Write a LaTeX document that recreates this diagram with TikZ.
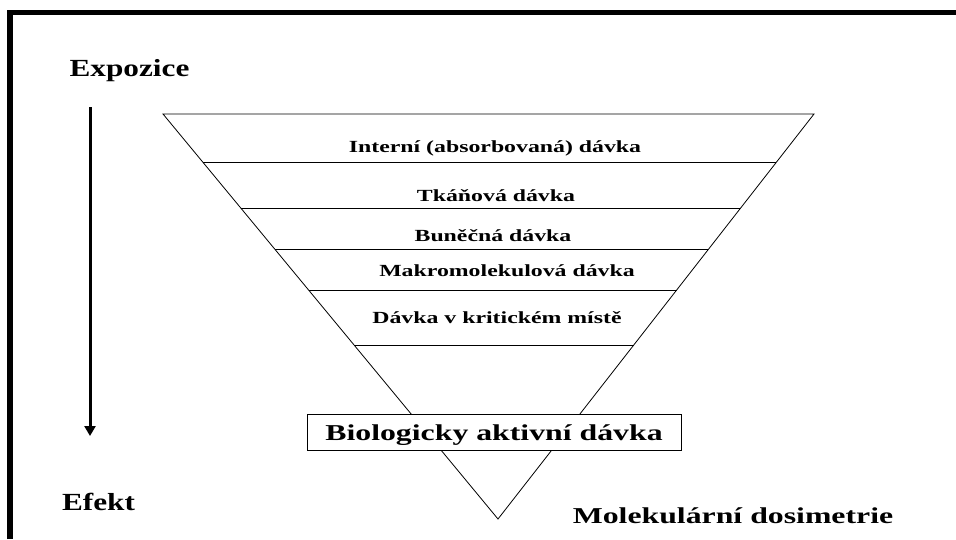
\documentclass[tikz,border=0pt]{standalone}
\usepackage{fontspec}
\newfontfamily\dosefont{Liberation Serif}[FakeStretch=1.4]
\newfontfamily\axisfont{Liberation Serif}[FakeStretch=1.27]
\usetikzlibrary{arrows.meta,calc}

\begin{document}
\begin{tikzpicture}[x=1pt,y=-1pt,
frame/.style={
  line width=5.5pt,
  line join=miter},
funnel/.style={
  line width=0.8pt,
  line join=miter},
doseaxis/.style={
  line width=3pt,
  -{Triangle[length=10pt,width=11pt]}},
level/.style={
  font={\dosefont\bfseries\fontsize{17pt}{20pt}\selectfont},
  anchor=base,
  inner sep=0pt},
axislabel/.style={
  level,
  font={\dosefont\bfseries\fontsize{22.7pt}{26pt}\selectfont}},
endlabel/.style={
  level,
  font={\axisfont\bfseries\fontsize{24.6pt}{28pt}\selectfont}},
activebox/.style={
  axislabel,
  anchor=center,
  draw,
  fill=white,
  line width=0.8pt,
  minimum width=374pt,
  minimum height=36pt,
  text height=16pt,
  text depth=0pt},
]
\useasboundingbox (0,0) rectangle (956,539);

% frame
\draw[frame] (10,539) -- (10,12.5) -- (956,12.5);

% exposure -> effect
\coordinate (arrowtop) at (90,107);
\coordinate (arrowtip) at (90,436);
\draw[doseaxis] (arrowtop) -- (arrowtip);

% funnel
\coordinate (tl) at (163,114);
\coordinate (tr) at (814,114);
\coordinate (apex) at (498,519);
\draw[funnel] (tl) -- (tr) -- (apex) -- cycle;
\foreach \t in {0.1193,0.2328,0.335,0.4346,0.5711}
  \draw[funnel] ($(tl)!\t!(apex)$) -- ($(tr)!\t!(apex)$);

\node[endlabel] (expo) at (129.5,76.7) {Expozice};
\node[endlabel] (effect) at (98.5,510.7) {Efekt};
\node[axislabel] (moldos) at (733,523.3) {Molekulární dosimetrie};

\node[level] (internal) at (495,152.7) {Interní (absorbovaná) dávka};
\node[level] (tissue) at (496,201) {Tkáňová dávka};
\node[level] (cell) at (493,241.5) {Buněčná dávka};
\node[level] (macro) at (507,276.7) {Makromolekulová dávka};
\node[level] (critical) at (497,323) {Dávka v kritickém místě};

\node[activebox] (active) at (494,432) {Biologicky aktivní dávka};

\end{tikzpicture}
\end{document}
